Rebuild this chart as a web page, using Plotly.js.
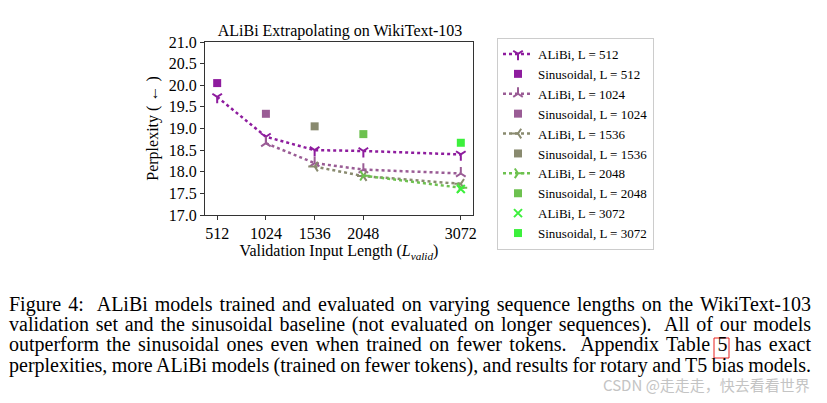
<!DOCTYPE html>
<html>
<head>
<meta charset="utf-8">
<script src="https://cdn.plot.ly/plotly-3.0.1.min.js"></script>
<style>
html,body{margin:0;padding:0;background:#fff;}
#chart{width:827px;height:403px;}
</style>
</head>
<body>
<div id="chart"></div>
<script>
// ---- data ----
const lengths = [512, 1024, 1536, 2048, 3072];
const tickLabels = ["512", "1024", "1536", "2048", "3072"];
const alibi512 = [19.73, 18.81, 18.50, 18.48, 18.40];
const alibi1024 = [18.66, 18.20, 18.05, 17.96];
const alibi1536 = [18.12, 17.90, 17.72];
const alibi2048 = [17.91, 17.63];
const alibi3072 = [17.60];
const sinusoidal = [20.05, 19.34, 19.05, 18.87, 18.67];
const seriesColors = ["#8E1C9E", "#9A5C95", "#898A6F", "#6DC14F", "#3CF03C"];
const alibiSymbols = ["y-down-open", "y-up-open", "y-left-open", "y-right-open", "x-thin-open"];
const alibiSeries = [alibi512, alibi1024, alibi1536, alibi2048, alibi3072];
const captionLines = [
  "Figure 4:  ALiBi models trained and evaluated on varying sequence lengths on the WikiText-103",
  "validation set and the sinusoidal baseline (not evaluated on longer sequences).  All of our models",
  "outperform the sinusoidal ones even when trained on fewer tokens.  Appendix Table 5 has exact",
  "perplexities, more ALiBi models (trained on fewer tokens), and results for rotary and T5 bias models."
];
const watermark = "CSDN @走走走，快去看看世界";

// ---- layout helpers (pixel -> paper) ----
const W = 827, H = 403;
const px = v => v / W;
const py = v => 1 - v / H;

const traces = [];
lengths.forEach((L, i) => {
  const ys = alibiSeries[i];
  const xs = lengths.slice(i, i + ys.length);
  const isX = i === 4;
  traces.push({
    x: xs, y: ys, type: "scatter",
    mode: isX ? "markers" : "lines+markers",
    name: "ALiBi, L = " + L,
    line: {color: seriesColors[i], width: 2.5, dash: "dot"},
    marker: {symbol: alibiSymbols[i], size: isX ? 8 : 8, color: seriesColors[i],
             line: {color: seriesColors[i], width: 2}}
  });
  traces.push({
    x: [L], y: [sinusoidal[i]], type: "scatter", mode: "markers",
    name: "Sinusoidal, L = " + L,
    marker: {symbol: "square", size: 8, color: seriesColors[i]}
  });
});

const serif = "Liberation Serif, Times New Roman, serif";
const annotations = captionLines.map((t, i) => ({
  xref: "paper", yref: "paper", x: px(7), y: py([304, 324, 344.5, 365][i]),
  xanchor: "left", yanchor: "middle", align: "left", showarrow: false,
  text: t, font: {family: serif, size: 20, color: "#000"}
}));
annotations.push({
  xref: "paper", yref: "paper", x: px(812), y: py(384),
  xanchor: "right", yanchor: "middle", showarrow: false,
  text: watermark, font: {family: "Noto Sans CJK SC, Noto Sans, sans-serif", size: 15, color: "#c4c4c4"}
});

const layout = {
  width: W, height: H,
  margin: {l: 0, r: 0, t: 0, b: 0},
  paper_bgcolor: "#fff", plot_bgcolor: "#fff",
  font: {family: serif, size: 16, color: "#000"},
  title: {text: "ALiBi Extrapolating on WikiText-103", x: px(340), xanchor: "center",
          y: py(30), yanchor: "middle", font: {family: serif, size: 16, color: "#000"}},
  xaxis: {
    domain: [px(205), px(473)], range: [384, 3200],
    tickvals: lengths, ticktext: tickLabels,
    ticks: "outside", ticklen: 4, tickwidth: 1, tickcolor: "#333",
    showline: true, linecolor: "#333", linewidth: 1, mirror: true,
    showgrid: false, zeroline: false,
    tickfont: {family: serif, size: 16, color: "#000"},
    title: {text: "Validation Input Length (<i>L<sub>valid</sub></i>)", standoff: 1,
            font: {family: serif, size: 16, color: "#000"}},
    automargin: false
  },
  yaxis: {
    domain: [py(215), py(42)], range: [17.0, 21.0],
    tick0: 17, dtick: 0.5, tickformat: ".1f",
    ticks: "outside", ticklen: 4, tickwidth: 1, tickcolor: "#333",
    showline: true, linecolor: "#333", linewidth: 1, mirror: true,
    showgrid: false, zeroline: false,
    tickfont: {family: serif, size: 16, color: "#000"},
    title: {text: "Perplexity ( ← )", standoff: 6, font: {family: serif, size: 16, color: "#000"}},
    automargin: false
  },
  showlegend: true,
  legend: {
    x: px(497), y: py(38), xanchor: "left", yanchor: "top",
    bordercolor: "#cccccc", borderwidth: 1, bgcolor: "#fff",
    font: {family: serif, size: 13, color: "#000"},
    tracegroupgap: 0, itemwidth: 30
  },
  annotations: annotations,
  shapes: [{
    type: "rect", xref: "paper", yref: "paper",
    x0: px(714), x1: px(729), y0: py(358), y1: py(338),
    line: {color: "#e8201f", width: 1}, fillcolor: "rgba(0,0,0,0)"
  }]
};

Plotly.newPlot("chart", traces, layout, {displayModeBar: false, staticPlot: true}).then(() => {
  // justify caption lines to the full text width
  const target = 809 - 7;
  document.querySelectorAll("text.annotation-text").forEach(el => {
    const idx = captionLines.indexOf(el.textContent);
    if (idx < 0) return;
    const w = el.getComputedTextLength();
    const spaces = (el.textContent.match(/ /g) || []).length;
    if (spaces > 0) el.style.wordSpacing = ((target - w) / spaces) + "px";
  });
});
</script>
</body>
</html>
